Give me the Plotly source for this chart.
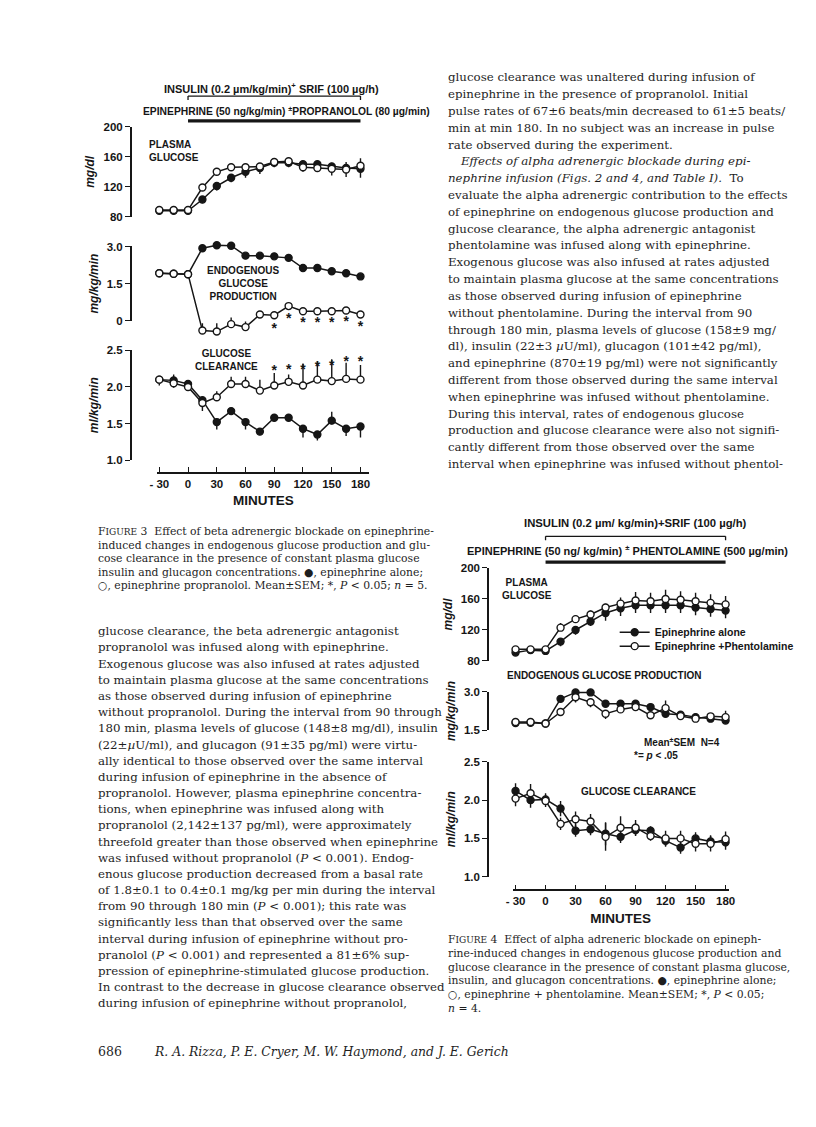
import plotly.graph_objects as go

# the page body adds an 8 px margin around the plot; compensate for it
OFF = 8
FW, FH = 816 - OFF, 1127 - OFF


def fx(px):
    return (px - OFF) / FW


def fy(py):
    return 1 - (py - OFF) / FH


INK = "#161616"
TEXT = "#1e1e1e"
SANS = "Liberation Sans"
SERIF = "DejaVu Serif"

# ---------------------------------------------------------------- data
minutes = [-30, -15, 0, 15, 30, 45, 60, 75, 90, 105, 120, 135, 150, 165, 180]
x_tick_vals = [-30, 0, 30, 60, 90, 120, 150, 180]
x_tick_text = ["- 30", "0", "30", "60", "90", "120", "150", "180"]

# Figure 3 : epinephrine alone (filled) vs epinephrine + propranolol (open)
f3_glu_epi = [88, 88, 88, 103, 121, 132, 140, 145, 152, 152, 150, 150, 147, 145, 144]
f3_glu_epi_err = [3, 3, 3, 5, 6, 6, 8, 8, 6, 6, 10, 10, 12, 12, 12]
f3_glu_prop = [89, 89, 89, 119, 140, 146, 146, 147, 153, 154, 146, 145, 144, 143, 148]
f3_glu_prop_err = [2, 2, 2, 3, 3, 3, 3, 4, 5, 5, 8, 8, 8, 10, 10]

f3_egp_epi = [1.92, 1.90, 1.88, 2.93, 3.05, 3.03, 2.63, 2.63, 2.60, 2.54, 2.13, 2.13, 2.00, 1.92, 1.79]
f3_egp_epi_err = [0.06, 0.06, 0.06, 0.08, 0.08, 0.08, 0.06, 0.06, 0.06, 0.10, 0.06, 0.06, 0.06, 0.06, 0.06]
f3_egp_prop = [1.92, 1.90, 1.88, -0.40, -0.44, -0.14, -0.26, 0.25, 0.22, 0.59, 0.38, 0.38, 0.38, 0.41, 0.25]
f3_egp_prop_err = [0.05, 0.05, 0.05, 0.30, 0.34, 0.27, 0.23, 0.08, 0.08, 0.10, 0.08, 0.08, 0.08, 0.10, 0.08]
f3_egp_star_min = [90, 105, 120, 135, 150, 165, 180]
f3_egp_star_y = [-0.35, 0.06, -0.12, -0.12, -0.12, -0.08, -0.28]

f3_clr_epi = [2.10, 2.09, 2.04, 1.82, 1.52, 1.67, 1.52, 1.39, 1.58, 1.58, 1.43, 1.35, 1.54, 1.43, 1.46]
f3_clr_epi_up = [0.04, 0.04, 0.04, 0.04, 0.04, 0.04, 0.04, 0.04, 0.04, 0.04, 0.04, 0.04, 0.12, 0.04, 0.04]
f3_clr_epi_dn = [0.08, 0.10, 0.05, 0.15, 0.10, 0.05, 0.10, 0.05, 0.05, 0.05, 0.12, 0.08, 0.05, 0.10, 0.15]
f3_clr_prop = [2.10, 2.05, 2.00, 1.78, 1.86, 2.04, 2.04, 1.95, 2.02, 2.07, 2.02, 2.10, 2.08, 2.11, 2.10]
f3_clr_prop_err = [0.05, 0.12, 0.05, 0.05, 0.08, 0.10, 0.10, 0.15, 0.17, 0.10, 0.30, 0.25, 0.30, 0.22, 0.20]
f3_clr_star_min = [90, 105, 120, 135, 150, 165, 180]
f3_clr_star_y = [2.21, 2.23, 2.23, 2.27, 2.28, 2.33, 2.33]

# Figure 4 : epinephrine alone (filled) vs epinephrine + phentolamine (open)
f4_glu_epi = [91, 94, 93, 105, 120, 131, 142, 148, 152, 152, 152, 152, 149, 147, 145]
f4_glu_epi_err = [3, 3, 3, 6, 6, 6, 10, 10, 10, 10, 10, 10, 10, 10, 10]
f4_glu_phen = [95, 95, 95, 123, 134, 140, 149, 154, 158, 157, 160, 159, 157, 155, 153]
f4_glu_phen_err = [3, 3, 3, 6, 5, 5, 5, 8, 11, 11, 12, 11, 11, 11, 11]

f4_egp_epi = [1.78, 1.79, 1.76, 2.72, 2.97, 2.97, 2.53, 2.53, 2.53, 2.40, 2.14, 2.10, 2.01, 1.95, 1.88]
f4_egp_epi_err = [0.05, 0.05, 0.05, 0.08, 0.12, 0.10, 0.05, 0.10, 0.12, 0.08, 0.10, 0.12, 0.08, 0.08, 0.08]
f4_egp_phen = [1.82, 1.82, 1.76, 2.21, 2.78, 2.59, 2.14, 2.31, 2.40, 2.08, 2.36, 2.05, 1.95, 2.04, 2.01]
f4_egp_phen_up = [0.03, 0.03, 0.03, 0.03, 0.03, 0.03, 0.03, 0.03, 0.03, 0.03, 0.30, 0.03, 0.03, 0.03, 0.25]
f4_egp_phen_dn = [0.05, 0.05, 0.05, 0.05, 0.20, 0.20, 0.20, 0.10, 0.10, 0.12, 0.10, 0.08, 0.10, 0.10, 0.08]

f4_clr_epi = [2.12, 2.00, 2.01, 1.89, 1.60, 1.62, 1.56, 1.52, 1.61, 1.60, 1.47, 1.38, 1.50, 1.46, 1.45]
f4_clr_epi_err = [0.10, 0.10, 0.08, 0.10, 0.08, 0.08, 0.15, 0.08, 0.08, 0.06, 0.08, 0.08, 0.08, 0.08, 0.10]
f4_clr_phen = [2.02, 2.09, 1.99, 1.69, 1.75, 1.72, 1.52, 1.64, 1.64, 1.53, 1.50, 1.50, 1.43, 1.43, 1.49]
f4_clr_phen_err = [0.10, 0.12, 0.08, 0.08, 0.10, 0.10, 0.18, 0.15, 0.10, 0.06, 0.10, 0.10, 0.10, 0.10, 0.10]

# ---------------------------------------------------------------- layout geometry
fig3_x = dict(p_lo=154, p_hi=359, d_lo=152, d_hi=368, ypix=472)
fig4_x = dict(p_lo=517, p_hi=731, d_lo=514, d_hi=734, ypix=894)

panels = [
    dict(xa="x", axpix=125, lo=80, hi=200, top=122, bot=213, tv=[80, 120, 160, 200],
         tt=["80", "120", "160", "200"], title="mg/dl"),
    dict(xa="x", axpix=125, lo=0, hi=3.0, top=243, bot=318, tv=[0, 1.5, 3.0],
         tt=["0", "1.5", "3.0"], title="mg/kg/min"),
    dict(xa="x", axpix=125, lo=1.0, hi=2.5, top=348, bot=459, tv=[1.0, 1.5, 2.0, 2.5],
         tt=["1.0", "1.5", "2.0", "2.5"], title="ml/kg/min"),
    dict(xa="x2", axpix=489, lo=80, hi=200, top=568, bot=662, tv=[80, 120, 160, 200],
         tt=["80", "120", "160", "200"], title="mg/dl"),
    dict(xa="x2", axpix=489, lo=1.5, hi=3.0, top=693, bot=732, tv=[1.5, 3.0],
         tt=["1.5", "3.0"], title="mg/kg/min"),
    dict(xa="x2", axpix=489, lo=1.0, hi=2.5, top=764, bot=880, tv=[1.0, 1.5, 2.0, 2.5],
         tt=["1.0", "1.5", "2.0", "2.5"], title="ml/kg/min"),
]

fig = go.Figure()
layout = {}


def x_axis_layout(g):
    ppm = (g["p_hi"] - g["p_lo"]) / 210.0
    r0 = -30 - (g["p_lo"] - g["d_lo"]) / ppm
    r1 = 180 + (g["d_hi"] - g["p_hi"]) / ppm
    return dict(
        domain=[fx(g["d_lo"]), fx(g["d_hi"])], range=[r0, r1], anchor="free",
        position=fy(g["ypix"]), showline=True, linecolor=INK, linewidth=1.6,
        ticks="inside", ticklen=5, tickwidth=1.4, tickcolor=INK,
        tickvals=x_tick_vals, ticktext=x_tick_text,
        tickfont=dict(family=SANS, size=11.5, color=INK, weight="bold"),
        showgrid=False, zeroline=False, fixedrange=True,
        title=dict(text="MINUTES", standoff=6,
                   font=dict(family=SANS, size=13.5, color=INK, weight="bold")),
    )


layout["xaxis"] = x_axis_layout(fig3_x)
layout["xaxis2"] = x_axis_layout(fig4_x)

PAD = 40
data_axes = []
for i, p in enumerate(panels):
    disp = i + 1
    dat = i + 7
    s = (p["bot"] - p["top"]) / (p["hi"] - p["lo"])
    layout["yaxis" if disp == 1 else f"yaxis{disp}"] = dict(
        domain=[fy(p["bot"]), fy(p["top"])], range=[p["lo"], p["hi"]],
        anchor="free", position=fx(p["axpix"]), side="left",
        showline=True, linecolor=INK, linewidth=1.6,
        ticks="outside", ticklen=5, tickwidth=1.4, tickcolor=INK,
        tickvals=p["tv"], ticktext=p["tt"],
        tickfont=dict(family=SANS, size=11.5, color=INK, weight="bold"),
        showgrid=False, zeroline=False, fixedrange=True,
        title=dict(text=p["title"], standoff=5,
                   font=dict(family=SANS, size=12, color=INK, weight="bold", style="italic")),
    )
    layout[f"yaxis{dat}"] = dict(
        domain=[fy(p["bot"] + PAD), fy(p["top"] - PAD)],
        range=[p["lo"] - PAD / s, p["hi"] + PAD / s],
        anchor=p["xa"], visible=False, showgrid=False, zeroline=False, fixedrange=True,
    )
    # invisible helper so the display axis is drawn
    fig.add_trace(go.Scatter(x=[minutes[0]], y=[p["lo"]], xaxis=p["xa"],
                             yaxis="y" if disp == 1 else f"y{disp}", mode="markers",
                             marker=dict(opacity=0), hoverinfo="skip", showlegend=False))
    data_axes.append(f"y{dat}")


def series(xa, ya, y, up, dn, filled, name=None, legend=None):
    kw = dict(showlegend=False)
    if legend:
        kw = dict(showlegend=True, legend=legend)
    return go.Scatter(
        x=minutes, y=y, xaxis=xa, yaxis=ya, mode="lines+markers", name=name,
        cliponaxis=False, hoverinfo="skip",
        line=dict(color=INK, width=1.5),
        marker=dict(symbol="circle", size=7, color=INK if filled else "white",
                    line=dict(color=INK, width=1.4)),
        error_y=dict(type="data", symmetric=False, array=up, arrayminus=dn,
                     color=INK, thickness=1.4, width=0),
        **kw,
    )


zeros = [0] * len(minutes)

# Figure 3 traces
fig.add_trace(series("x", data_axes[0], f3_glu_epi, zeros, f3_glu_epi_err, True))
fig.add_trace(series("x", data_axes[0], f3_glu_prop, f3_glu_prop_err, zeros, False))
fig.add_trace(series("x", data_axes[1], f3_egp_epi, f3_egp_epi_err, zeros, True))
fig.add_trace(series("x", data_axes[1], f3_egp_prop, f3_egp_prop_err, zeros, False))
fig.add_trace(series("x", data_axes[2], f3_clr_epi, f3_clr_epi_up, f3_clr_epi_dn, True))
fig.add_trace(series("x", data_axes[2], f3_clr_prop, f3_clr_prop_err, zeros, False))

for ya, xs, ys in [(data_axes[1], f3_egp_star_min, f3_egp_star_y),
                   (data_axes[2], f3_clr_star_min, f3_clr_star_y)]:
    fig.add_trace(go.Scatter(x=xs, y=ys, xaxis="x", yaxis=ya, mode="text",
                             text=["*"] * len(xs), textposition="middle center",
                             textfont=dict(family=SANS, size=14, color=INK, weight="bold"),
                             cliponaxis=False, showlegend=False, hoverinfo="skip"))

# Figure 4 traces
fig.add_trace(series("x2", data_axes[3], f4_glu_epi, zeros, f4_glu_epi_err, True,
                     "Epinephrine alone", "legend"))
fig.add_trace(series("x2", data_axes[3], f4_glu_phen, f4_glu_phen_err, zeros, False,
                     "Epinephrine +Phentolamine", "legend2"))
fig.add_trace(series("x2", data_axes[4], f4_egp_epi, f4_egp_epi_err, zeros, True))
fig.add_trace(series("x2", data_axes[4], f4_egp_phen, f4_egp_phen_up, f4_egp_phen_dn, False))
fig.add_trace(series("x2", data_axes[5], f4_clr_epi, f4_clr_epi_err, f4_clr_epi_err, True))
fig.add_trace(series("x2", data_axes[5], f4_clr_phen, f4_clr_phen_err, f4_clr_phen_err, False))


# ---------------------------------------------------------------- headers / labels
def label(x, y, txt, size=10, anchor="center", align="center", family=SANS, bold=True,
          color=INK):
    fig.add_annotation(x=fx(x), y=fy(y), xref="paper", yref="paper", text=txt,
                       showarrow=False, xanchor=anchor, yanchor="middle", align=align,
                       borderpad=0,
                       font=dict(family=family, size=size, color=color,
                                 weight="bold" if bold else "normal"))


# Figure 3 header
label(268, 83, "INSULIN (0.2 µm/kg/min)<sup>+</sup> SRIF (100 µg/h)", 11)
label(136, 106, "EPINEPHRINE (50 ng/kg/min) <sup>±</sup>PROPRANOLOL (80 µg/min)", 10.3,
      anchor="left", align="left")
# Figure 4 header
label(639, 523, "INSULIN (0.2 µm/ kg/min)+SRIF (100 µg/h)", 11.3)
label(467, 550, "EPINEPHRINE (50 ng/ kg/min) <sup>±</sup> PHENTOLAMINE (500 µg/min)", 11,
      anchor="left", align="left")

# brackets and infusion bars (span 0 -> 180 min)
for xa, yb, ybar in [("x", 91, 116), ("x2", 536, 562)]:
    fig.add_shape(type="line", xref=xa, yref="paper", x0=0, x1=180, y0=fy(yb), y1=fy(yb),
                  line=dict(color=INK, width=1.3))
    for xe in (0, 180):
        fig.add_shape(type="line", xref=xa, yref="paper", x0=xe, x1=xe, y0=fy(yb),
                      y1=fy(yb + 4), line=dict(color=INK, width=1.3))
    fig.add_shape(type="line", xref=xa, yref="paper", x0=0, x1=180, y0=fy(ybar),
                  y1=fy(ybar), line=dict(color=INK, width=3.2))

# panel labels fig 3
label(143, 146, "PLASMA<br>GLUCOSE", 10, anchor="left", align="left")
label(240, 280, "ENDOGENOUS<br>GLUCOSE<br>PRODUCTION", 10)
label(222, 358, "GLUCOSE<br>CLEARANCE", 10)
# panel labels fig 4
label(529, 589, "PLASMA<br>GLUCOSE", 10)
label(607, 677, "ENDOGENOUS GLUCOSE PRODUCTION", 10)
label(687, 744, "Mean<sup>±</sup>SEM  N=4", 10)
label(637, 758, "*= <i>p</i> < .05", 10, anchor="left", align="left")
label(642, 794, "GLUCOSE CLEARANCE", 10)

# ---------------------------------------------------------------- body text
right_col = [
    "glucose clearance was unaltered during infusion of",
    "epinephrine in the presence of propranolol. Initial",
    "pulse rates of 67±6 beats/min decreased to 61±5 beats/",
    "min at min 180. In no subject was an increase in pulse",
    "rate observed during the experiment.",
    "<i>Effects of alpha adrenergic blockade during epi-</i>",
    "<i>nephrine infusion (Figs. 2 and 4, and Table I).</i>  To",
    "evaluate the alpha adrenergic contribution to the effects",
    "of epinephrine on endogenous glucose production and",
    "glucose clearance, the alpha adrenergic antagonist",
    "phentolamine was infused along with epinephrine.",
    "Exogenous glucose was also infused at rates adjusted",
    "to maintain plasma glucose at the same concentrations",
    "as those observed during infusion of epinephrine",
    "without phentolamine. During the interval from 90",
    "through 180 min, plasma levels of glucose (158±9 mg/",
    "dl), insulin (22±3 <i>µ</i>U/ml), glucagon (101±42 pg/ml),",
    "and epinephrine (870±19 pg/ml) were not significantly",
    "different from those observed during the same interval",
    "when epinephrine was infused without phentolamine.",
    "During this interval, rates of endogenous glucose",
    "production and glucose clearance were also not signifi-",
    "cantly different from those observed over the same",
    "interval when epinephrine was infused without phentol-",
]
left_col = [
    "glucose clearance, the beta adrenergic antagonist",
    "propranolol was infused along with epinephrine.",
    "Exogenous glucose was also infused at rates adjusted",
    "to maintain plasma glucose at the same concentrations",
    "as those observed during infusion of epinephrine",
    "without propranolol. During the interval from 90 through",
    "180 min, plasma levels of glucose (148±8 mg/dl), insulin",
    "(22±<i>µ</i>U/ml), and glucagon (91±35 pg/ml) were virtu-",
    "ally identical to those observed over the same interval",
    "during infusion of epinephrine in the absence of",
    "propranolol. However, plasma epinephrine concentra-",
    "tions, when epinephrine was infused along with",
    "propranolol (2,142±137 pg/ml), were approximately",
    "threefold greater than those observed when epinephrine",
    "was infused without propranolol (<i>P</i> < 0.001). Endog-",
    "enous glucose production decreased from a basal rate",
    "of 1.8±0.1 to 0.4±0.1 mg/kg per min during the interval",
    "from 90 through 180 min (<i>P</i> < 0.001); this rate was",
    "significantly less than that observed over the same",
    "interval during infusion of epinephrine without pro-",
    "pranolol (<i>P</i> < 0.001) and represented a 81±6% sup-",
    "pression of epinephrine-stimulated glucose production.",
    "In contrast to the decrease in glucose clearance observed",
    "during infusion of epinephrine without propranolol,",
]
cap3 = [
    'F<span style="font-size:9px">IGURE</span> 3  Effect of beta adrenergic blockade on epinephrine-',
    "induced changes in endogenous glucose production and glu-",
    "cose clearance in the presence of constant plasma glucose",
    "insulin and glucagon concentrations. ●, epinephrine alone;",
    "○, epinephrine propranolol. Mean±SEM; *, <i>P</i> < 0.05; <i>n</i> = 5.",
]
cap4 = [
    'F<span style="font-size:9px">IGURE</span> 4  Effect of alpha adreneric blockade on epineph-',
    "rine-induced changes in endogenous glucose production and",
    "glucose clearance in the presence of constant plasma glucose,",
    "insulin, and glucagon concentrations. ●, epinephrine alone;",
    "○, epinephrine + phentolamine. Mean±SEM; *, <i>P</i> < 0.05;",
    "<i>n</i> = 4.",
]

BODY = 11.8
for i, t in enumerate(right_col):
    xl = 459 if i == 5 else 447
    label(xl, 72 + 17.0 * i, t, BODY, anchor="left", align="left", family=SERIF, bold=False,
          color=TEXT)
for i, t in enumerate(left_col):
    label(91, 632 + 16.35 * i, t, BODY, anchor="left", align="left", family=SERIF, bold=False,
          color=TEXT)
for i, t in enumerate(cap3):
    label(91, 531 + 13.8 * i, t, 10.8, anchor="left", align="left", family=SERIF, bold=False,
          color=TEXT)
for i, t in enumerate(cap4):
    label(447, 944 + 13.8 * i, t, 10.8, anchor="left", align="left", family=SERIF, bold=False,
          color=TEXT)

label(91, 1057, "686", 12.5, anchor="left", align="left", family=SERIF, bold=False, color=TEXT)
label(148, 1057, "<i>R. A. Rizza, P. E. Cryer, M. W. Haymond, and J. E. Gerich</i>", 12.4,
      anchor="left", align="left", family=SERIF, bold=False, color=TEXT)

legend_common = dict(xanchor="left", yanchor="middle", bgcolor="rgba(0,0,0,0)",
                     borderwidth=0, itemwidth=30, tracegroupgap=0,
                     font=dict(family=SANS, size=10.5, color=INK, weight="bold"))

fig.update_layout(
    width=FW, height=FH, margin=dict(l=0, r=0, t=0, b=0, pad=0),
    paper_bgcolor="white", plot_bgcolor="rgba(0,0,0,0)",
    font=dict(family=SANS, color=INK),
    showlegend=True,
    legend=dict(x=fx(618), y=fy(633), **legend_common),
    legend2=dict(x=fx(618), y=fy(647), **legend_common),
    **layout,
)

fig.write_html("out.html")
